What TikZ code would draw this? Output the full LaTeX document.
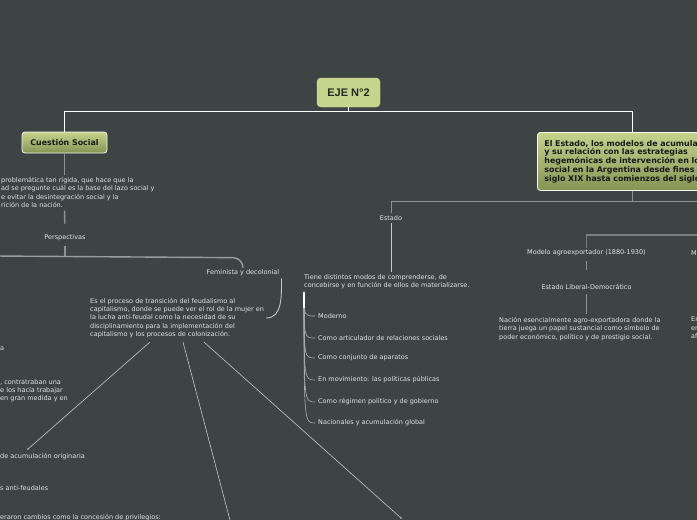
\documentclass[tikz,border=0pt]{standalone}
\usepackage{fontspec}
\setmainfont{DejaVu Sans}
\newfontfamily\ejefont{Liberation Sans}
\definecolor{mapbg}{RGB}{62,67,68}
\definecolor{mapgreen}{RGB}{198,213,140}
\definecolor{olivetop}{RGB}{198,211,140}
\definecolor{olivebot}{RGB}{134,148,84}
\definecolor{mapink}{RGB}{226,228,228}
\definecolor{wireg}{RGB}{142,147,147}
\definecolor{wirel}{RGB}{196,199,199}
\usetikzlibrary{positioning, calc}

\begin{document}
\begin{tikzpicture}[x=1pt, y=-1pt,
  centralbox/.style={draw=mapgreen!55!white, fill=mapgreen, rounded corners=4pt, minimum width=63pt, minimum height=29pt, font=\ejefont\bfseries\fontsize{11}{13}\selectfont, text=black!85},
  topicbox/.style={draw=white!85!mapgreen, line width=0.8pt, top color=olivetop, bottom color=olivebot, rounded corners=3pt, font=\bfseries\fontsize{7.9}{8.8}\selectfont, text=black!90},
  leaf/.style={font=\fontsize{6.5}{8.3}\selectfont, text=mapink, inner sep=2pt, align=left},
  mainwire/.style={draw=white, line width=0.8pt},
  wire/.style={draw=wireg, line width=1.4pt},
  thinwire/.style={draw=wirel, line width=0.6pt},
  branch/.style={draw=wirel!85!mapbg, line width=0.6pt}
]
  \useasboundingbox (0,0) rectangle (697,520);
  \fill[mapbg] (0,0) rectangle (697,520);

  % central topic and main branches
  \node[centralbox] (eje) at (348.5,92.5) {EJE N°2};
  \node[topicbox, minimum width=85pt, minimum height=21pt] (cuestion) at (64.5,142.5) {Cuestión Social};
  \node[topicbox, anchor=north west, minimum height=58pt, text width=225pt, align=left, inner xsep=7pt, inner ysep=4pt] (estadobox) at (537,132)
    {El Estado, los modelos de acumulación\\y su relación con las estrategias\\hegemónicas de intervención en lo\\social en la Argentina desde fines del\\siglo XIX hasta comienzos del siglo XX};
  \draw[mainwire] (eje.south) -- ++(0,4) -| (cuestion.north);
  \draw[mainwire] (eje.south) ++(0,4) -| ($(estadobox.north west)+(95,0)$);

  % Cuestion Social
  \node[leaf, anchor=north west] (lazo) at (-1,175) {problemática tan rígida, que hace que la\\ad se pregunte cuál es la base del lazo social y\\e evitar la desintegración social y la\\rición de la nación.};
  \node[leaf] (persp) at (65,238) {Perspectivas};
  \node[leaf] (feminista) at (243,273) {Feminista y decolonial};
  \node[leaf, anchor=west] (transicion) at (88,318) {Es el proceso de transición del feudalismo al\\capitalismo, donde se puede ver el rol de la mujer en\\la lucha anti-feudal como la necesidad de su\\disciplinamiento para la implementación del\\capitalismo y los procesos de colonización.};
  \coordinate (leftbus) at (-5,256);
  \coordinate (acum-in) at (28,449);
  \coordinate (trabajo-in) at (231,524);
  \coordinate (colonia-in) at (401,518);
  \draw[wire] (cuestion.south) -- (cuestion.south |- lazo.north);
  \draw[wire, shorten <=1pt, shorten >=9pt] (lazo.south -| cuestion.south) -- (persp.north);
  \draw[wire, shorten <=3pt] (persp.south) -- (persp.south |- leftbus);
  \draw[wire, draw=wireg!90!white] (leftbus) -- ($(feminista.north)+(-10,-10)$) to[out=0,in=90] (feminista.north);
  \draw[thinwire, line width=0.9pt] (feminista.south east) to[out=-90,in=0] (transicion.east);
  \draw[thinwire] ($(transicion.south west)+(62,2)$) -- (acum-in);
  \draw[thinwire] ($(transicion.south west)+(95,2)$) -- (trabajo-in);
  \draw[thinwire] ($(transicion.south west)+(116,2)$) -- (colonia-in);
  \fill[wirel] (acum-in) circle (0.9);
  \fill[wirel] (colonia-in) circle (0.9);

  % parts of the left branches
  \node[leaf, anchor=west] (frag-a) at (-2,349) {a};
  \node[leaf, anchor=north west] (frag-contrato) at (-2,377) {, contratraban una\\e los hacía trabajar\\en gran medida y en};
  \node[leaf, anchor=west] (frag-acum) at (-2,457) {de acumulación originaria};
  \node[leaf, anchor=west] (frag-feud) at (-2,488) {s anti-feudales};
  \node[leaf, anchor=west] (frag-priv) at (-2,518) {eraron cambios como la concesión de privilegios:};

  % Estado
  \coordinate (rightbus) at (705,201);
  \node[leaf] (estado) at (391,218) {Estado};
  \node[leaf, anchor=north west] (tiene) at (302,272) {Tiene distintos modos de comprenderse, de\\concebirse y en función de ellos de materializarse.};
  \draw[thinwire, draw=wireg] ($(estadobox.south west)+(95,0)$) -- ++(0,11);
  \draw[thinwire, draw=wireg] (estado.north) |- (rightbus);
  \draw[thinwire, line width=0.9pt] (estado.south) -- (estado.south |- tiene.north);
  \coordinate (stem) at ($(tiene.south west)+(2,1)$);
  \foreach \txt/\yy [count=\i] in {Moderno/316, Como articulador de relaciones sociales/338, Como conjunto de aparatos/358, En movimiento: las políticas públicas/380, Como régimen político y de gobierno/402, Nacionales y acumulación global/423}{
    \node[leaf, anchor=west] (rama\i) at (316,\yy) {\txt};
    \draw[branch] (stem) .. controls (stem |- rama\i.west) .. ($(rama\i.west)+(-1,0)$);
  }
  \draw[white, line width=1.2pt] (stem) -- ++(0,16);

  % modelos de acumulacion
  \coordinate (agrobus) at (705,235);
  \node[leaf] (agro) at (586.5,253) {Modelo agroexportador (1880-1930)};
  \node[leaf] (liberal) at (586.5,287) {Estado Liberal-Democrático};
  \node[leaf, anchor=north west] (nacion) at (497,315) {Nación esencialmente agro-exportadora donde la\\tierra juega un papel sustancial como símbolo de\\poder económico, político y de prestigio social.};
  \draw[wire, draw=wireg!75!mapbg, line width=1.8pt] (agro.north) |- (agrobus);
  \draw[thinwire, draw=wireg, line width=0.9pt, shorten <=2.5pt, shorten >=12pt] (agro.south) -- (liberal.north);
  \draw[thinwire, draw=wireg, line width=0.9pt, shorten <=2.5pt, shorten >=1pt] (liberal.south) -- (liberal.south |- nacion.north);
  \node[leaf, anchor=west] (frag-m) at (689,253) {M};
  \node[leaf, anchor=north west] (frag-en) at (689,315) {En\\en\\af};
\end{tikzpicture}
\end{document}
